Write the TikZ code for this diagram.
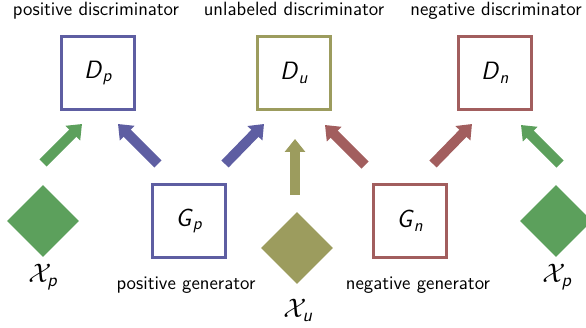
\documentclass[tikz,border=0pt]{standalone}
\usepackage{amsmath}
\usetikzlibrary{arrows.meta,shapes.geometric}
\definecolor{cblue}{RGB}{94,94,162}
\definecolor{cgreen}{RGB}{92,160,92}
\definecolor{colive}{RGB}{156,156,94}
\definecolor{cred}{RGB}{162,94,94}
\newcommand{\bigtxt}[1]{\scalebox{1.45}{#1}}
\tikzset{
  box/.style={draw, line width=3pt, minimum size=73pt, inner sep=0pt, font=\sffamily\fontsize{17.28}{20}\selectfont},
  dia/.style={diamond, fill, inner sep=0pt, minimum width=72pt, minimum height=72pt},
  lbl/.style={font=\sffamily\fontsize{12}{14}\selectfont, inner sep=0pt, scale=1.6},
  xl/.style={font=\sffamily\fontsize{17.28}{20}\selectfont, inner sep=0pt, scale=1.55},
  fat/.style={line width=10pt, -{Triangle[width=20pt,length=13pt]}}
}
\begin{document}
\begin{tikzpicture}[x=1pt,y=-1pt]
\useasboundingbox (0,0) rectangle (586,328);
% discriminators
\node[box, draw=cblue] (Dp) at (98,73) {\bigtxt{\textit{D}$_{\textit{p}}$}};
\node[box, draw=colive] (Du) at (294,73) {\bigtxt{\textit{D}$_{\textit{u}}$}};
\node[box, draw=cred] (Dn) at (495,73) {\bigtxt{\textit{D}$_{\textit{n}}$}};
\node[lbl, anchor=north] (tDp) at (96,2) {positive discriminator};
\node[lbl, anchor=north] (tDu) at (294,2) {unlabeled discriminator};
\node[lbl, anchor=north] (tDn) at (496,2) {negative discriminator};
% generators
\node[box, draw=cblue] (Gp) at (189,221) {\bigtxt{\textit{G}$_{\textit{p}}$}};
\node[box, draw=cred] (Gn) at (410,221) {\bigtxt{\textit{G}$_{\textit{n}}$}};
\node[lbl] (tGp) at (186,285) {positive generator};
\node[lbl] (tGn) at (418,285) {negative generator};
% data
\node[dia, fill=cgreen] (Xp1) at (43,221) {};
\node[dia, fill=colive] (Xu) at (297,248) {};
\node[dia, fill=cgreen] (Xp2) at (556,221) {};
\node[xl] (tXp1) at (43,277) {$\mathcal{X}_{\textit{p}}$};
\node[xl] (tXu) at (298,310) {$\mathcal{X}_{\textit{u}}$};
\node[xl] (tXp2) at (557,277) {$\mathcal{X}_{\textit{p}}$};
% arrow end points
\coordinate (a1s) at (43,163);  \coordinate (a1e) at (82,124);
\coordinate (a2s) at (158,164); \coordinate (a2e) at (118,124);
\coordinate (a3s) at (225,164); \coordinate (a3e) at (264,124);
\coordinate (a4s) at (295,195); \coordinate (a4e) at (295,139);
\coordinate (a5s) at (365,165); \coordinate (a5e) at (325,125);
\coordinate (a6s) at (433,164); \coordinate (a6e) at (472,124);
\coordinate (a7s) at (560,164); \coordinate (a7e) at (521,125);
\draw[fat, cgreen] (a1s) -- (a1e);
\draw[fat, cblue] (a2s) -- (a2e);
\draw[fat, cblue] (a3s) -- (a3e);
\draw[fat, colive] (a4s) -- (a4e);
\draw[fat, cred] (a5s) -- (a5e);
\draw[fat, cred] (a6s) -- (a6e);
\draw[fat, cgreen] (a7s) -- (a7e);
\end{tikzpicture}
\end{document}
